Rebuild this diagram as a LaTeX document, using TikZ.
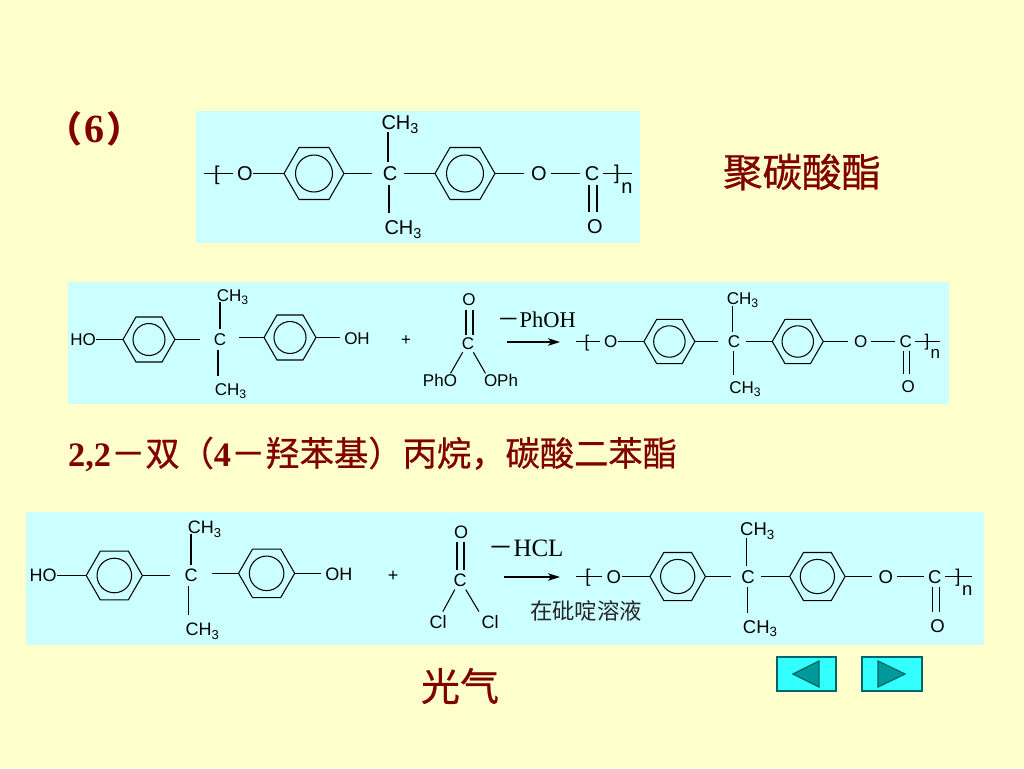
\documentclass[tikz,border=0pt]{standalone}
\usepackage{fontspec}
\setmainfont{Liberation Serif}
\setsansfont{Liberation Sans}
\newfontfamily\cjk{Noto Sans CJK SC}
\newfontfamily\cjkh[FakeBold=0.6]{Noto Sans CJK SC}
\usetikzlibrary{shapes.geometric,arrows.meta}
\definecolor{pagebg}{HTML}{FFFFCC}
\definecolor{panelbg}{HTML}{CCFFFF}
\definecolor{titlered}{HTML}{800000}
\definecolor{navfill}{HTML}{33FFFF}
\definecolor{navedge}{HTML}{006666}
\definecolor{navtri}{HTML}{009999}
\tikzset{
  bond/.style={draw=black,line width=1.05pt,line cap=butt},
  hexa/.style={draw=black,line width=1.05pt,regular polygon,regular polygon sides=6,inner sep=0pt,outer sep=0pt,minimum size=#1},
  hexin/.style={draw=black,line width=1.05pt,circle,inner sep=0pt,outer sep=0pt,minimum size=#1},
  panel/.style={fill=panelbg,draw=none},
  rarrow/.style={draw=black,line width=1.05pt,-{Stealth[length=12pt,width=7.5pt,inset=3pt]}},
  title/.style={text=titlered,inner sep=0pt,font=\fontsize{#1}{#1}\selectfont},
  navbtn/.style={fill=navfill,draw=navedge,line width=1.2pt},
  navarrow/.style={fill=navtri,draw=navedge,line width=1.2pt,line join=miter}
}
\newcommand{\setlab}[1]{%
  \pgfmathsetlengthmacro\labht{#1*0.72pt}%
  \pgfmathsetmacro\subsz{#1*0.72}%
  \tikzset{lab/.style={font=\sffamily\fontsize{#1}{#1}\selectfont,inner sep=0.5pt,outer sep=0pt,text height=\labht,text depth=0pt}}%
}
\newcommand{\chthree}{CH\raisebox{-0.2em}{\fontsize{\subsz}{\subsz}\selectfont 3}}
% polymer repeat unit: prefix, x, y of the central C, scale, font size
\newcommand{\polymer}[5]{%
\begin{scope}[shift={(#2,#3)},scale=#4,name prefix=#1-]
  \setlab{#5}
  \coordinate (ls) at (-186,0);
  \node[lab] (lb) at (-173,-0.5) {[};
  \node[lab] (O1) at (-145,0) {O};
  \node[hexa=#4*60pt] (r1) at (-76,0) {};
  \node[hexin=#4*37pt] (i1) at (-76,0) {};
  \node[lab] (C) at (0,0) {C};
  \node[hexa=#4*60pt] (r2) at (75,0) {};
  \node[hexin=#4*37pt] (i2) at (75,0) {};
  \node[lab] (O2) at (149,0) {O};
  \node[lab] (C2) at (202,0) {C};
  \node[lab] (rb) at (227,-1) {]};
  \coordinate (re) at (242,0);
  \node[lab] (n) at (237,13) {n};
  \node[lab] (O3) at (205,53) {O};
  \node[lab] (T) at (10,-51) {\chthree};
  \node[lab] (B) at (13,54) {\chthree};
  \draw[bond,shorten >=#4*4pt] (ls) -- (O1);
  \draw[bond] (O1) -- (r1.west);
  \draw[bond,shorten >=#4*10.6pt] (r1.east) -- (C);
  \draw[bond,shorten >=#4*6.6pt] (r2.west) -- (C);
  \draw[bond,shorten >=#4*7pt] (r2.east) -- (O2);
  \draw[bond,shorten <=#4*4pt,shorten >=#4*4.5pt] (O2) -- (C2);
  \draw[bond,shorten <=#4*3.5pt] (C2) -- (re);
  \draw[bond,shorten <=#4*3.5pt,shorten >=#4*1.5pt] ([xshift=-#4*2pt]C.north) -- ([xshift=-#4*2pt]C.north |- T.south);
  \draw[bond,shorten <=#4*3.5pt,shorten >=#4*6.5pt] ([xshift=-#4*1pt]C.south) -- ([xshift=-#4*1pt]C.south |- B.north);
  \draw[bond,shorten <=#4*3.5pt,shorten >=#4*6.5pt] ([xshift=-#4*3pt]C2.south) -- ([xshift=-#4*3pt]C2.south |- O3.north);
  \draw[bond,shorten <=#4*3.5pt,shorten >=#4*6.5pt] ([xshift=#4*5pt]C2.south) -- ([xshift=#4*5pt]C2.south |- O3.north);
\end{scope}}
% bisphenol A: prefix, x, y of the central C, scale, font size
\newcommand{\bisphenol}[5]{%
\begin{scope}[shift={(#2,#3)},scale=#4,name prefix=#1-]
  \setlab{#5}
  \node[lab] (HO) at (-137,0) {HO};
  \node[hexa=#4*52pt] (r1) at (-71,0) {};
  \node[hexin=#4*32pt] (i1) at (-71,0) {};
  \node[lab] (C) at (0,0) {C};
  \node[hexa=#4*52pt] (r2) at (70,-2) {};
  \node[hexin=#4*32pt] (i2) at (70,-2) {};
  \node[lab] (OH) at (137,-1) {OH};
  \node[lab] (T) at (12.5,-44.5) {\chthree};
  \node[lab] (B) at (10.5,49.5) {\chthree};
  \draw[bond] (HO) -- (r1.west);
  \draw[bond,shorten >=#4*13pt] (r1.east) -- (C);
  \draw[bond,shorten >=#4*12.5pt] (r2.west) -- (r2.west -| C.east);
  \draw[bond,shorten >=#4*4pt] (r2.east) -- (r2.east -| OH.west);
  \draw[bond,shorten <=#4*3.7pt] (C.north) -- (C.north |- T.south);
  \draw[bond,shorten <=#4*3.7pt,shorten >=#4*6.7pt] ([xshift=-#4*2pt]C.south) -- ([xshift=-#4*2pt]C.south |- B.north);
\end{scope}}
\begin{document}
\begin{tikzpicture}[x=1pt,y=-1pt]
\useasboundingbox (0,0) rectangle (1024,768);
\fill[pagebg] (0,0) rectangle (1024,768);
% panels
\fill[panel] (196,111) rectangle (640,243);
\fill[panel] (67.5,282) rectangle (948.5,404);
\fill[panel] (26,512) rectangle (984,645);
% titles
\node[title=36,font=\fontsize{36}{36}\selectfont\cjk\bfseries] (t6) at (94,129) {（\hspace{2pt}{\rmfamily\fontsize{40}{40}\selectfont 6}\hspace{2pt}）};
\node[title=39.5] (t1) at (802,172) {\cjkh 聚碳酸酯};
\node[title=34.3,anchor=west] (t2) at (68,454) {{\rmfamily\bfseries 2,2}\cjkh －双（{\rmfamily\bfseries 4}－羟苯基）丙烷，碳酸二苯酯};
\node[title=39] (t3) at (460,686) {\cjkh 光气};
% structures
\polymer{a}{390}{173.5}{1}{20}
\bisphenol{b}{220}{339.5}{1}{17}
\polymer{c}{734}{341.5}{0.85}{17}
\bisphenol{d}{191}{575.5}{1.08}{18}
\polymer{e}{748}{576.5}{0.925}{18.5}
% diphenyl carbonate
\setlab{17}
\node[lab] (plus1) at (406,339.5) {+};
\node[lab] (bO) at (469,299) {O};
\node[lab] (bC) at (468,343) {C};
\node[lab] (bL) at (440,380) {PhO};
\node[lab] (bR) at (501,380) {OPh};
\draw[bond,shorten <=1.7pt,shorten >=4.7pt] ([xshift=-2pt]bC.north) -- ([xshift=-2pt]bC.north |- bO.south);
\draw[bond,shorten <=1.7pt,shorten >=4.7pt] ([xshift=5pt]bC.north) -- ([xshift=5pt]bC.north |- bO.south);
\draw[bond,shorten <=3pt] (bC) -- ([xshift=-7pt]bL.north east);
\draw[bond,shorten <=3pt] (bC) -- ([xshift=2pt]bR.north west);
\coordinate (ba1) at (507,342);
\coordinate (ba2) at (560,342);
\draw[rarrow] (ba1) -- (ba2);
\node[inner sep=0pt,font=\fontsize{22.5}{22.5}\selectfont] (phoh) at (536.5,319.5) {{\cjk －}PhOH};
% phosgene
\setlab{18}
\node[lab] (plus2) at (393,575.5) {+};
\node[lab] (dO) at (461,532) {O};
\node[lab] (dC) at (460,580) {C};
\node[lab] (dL) at (438,622) {Cl};
\node[lab] (dR) at (490,622) {Cl};
\draw[bond,shorten <=3.4pt,shorten >=3.4pt] ([xshift=-3pt]dC.north) -- ([xshift=-3pt]dC.north |- dO.south);
\draw[bond,shorten <=3.4pt,shorten >=3.4pt] ([xshift=4pt]dC.north) -- ([xshift=4pt]dC.north |- dO.south);
\draw[bond,shorten <=3pt,shorten >=4pt] (dC) -- ([xshift=3pt]dL.north);
\draw[bond,shorten <=3pt,shorten >=4pt] (dC) -- ([xshift=-9pt]dR.north);
\coordinate (da1) at (504,577);
\coordinate (da2) at (560,577);
\draw[rarrow] (da1) -- (da2);
\node[inner sep=0pt,font=\fontsize{25}{25}\selectfont] (hcl) at (526,548) {{\cjk －}HCL};
\node[inner sep=0pt,text=black!85,font=\fontsize{22.4}{22.4}\selectfont\cjk] (solv) at (586,610.5) {在砒啶溶液};
% nav buttons
\draw[navbtn] (777,657) rectangle (836,691);
\draw[navarrow] (793,674) -- (819,661) -- (819,687) -- cycle;
\draw[navbtn] (862,657) rectangle (922,691);
\draw[navarrow] (905,674) -- (878,661) -- (878,687) -- cycle;
\end{tikzpicture}
\end{document}
